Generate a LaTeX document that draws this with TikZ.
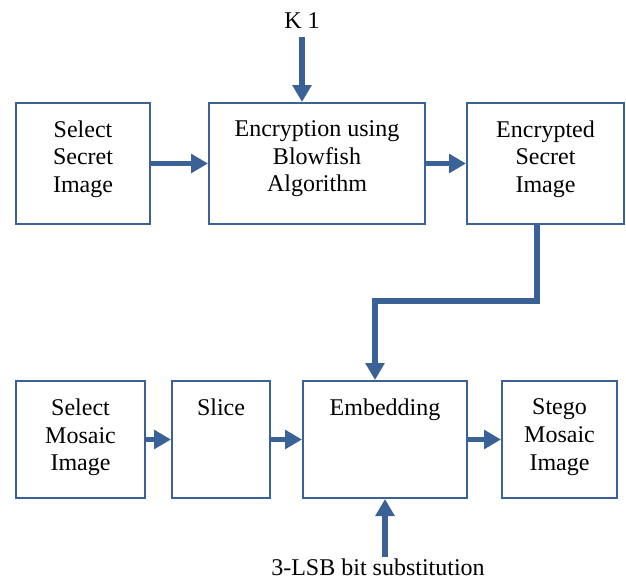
\documentclass[tikz,border=0pt]{standalone}
\usepackage{fontspec}
\setmainfont{Liberation Serif}
\usetikzlibrary{arrows.meta}
\definecolor{flowblue}{RGB}{59,98,150}
\begin{document}
\begin{tikzpicture}[x=1pt,y=-1pt,
  box/.style={draw=flowblue,line width=2pt,rectangle,inner sep=0pt,fill=white},
  lbl/.style={inner sep=0pt,align=center,anchor=north,font=\fontsize{24}{27.8}\selectfont},
  arr/.style={draw=flowblue,line width=5.5pt,line join=miter,-{Triangle[length=17pt,width=18.5pt]}}]
\useasboundingbox (0,0) rectangle (626,581);
% top row boxes
\node[box,minimum width=134,minimum height=121] (b1) at (83,163.5) {};
\node[box,minimum width=216,minimum height=121] (b2) at (317,163.5) {};
\node[box,minimum width=157,minimum height=121] (b3) at (545.5,163.5) {};
% bottom row boxes
\node[box,minimum width=129,minimum height=117] (b4) at (80.5,439.5) {};
\node[box,minimum width=98,minimum height=117] (b5) at (221,439.5) {};
\node[box,minimum width=164,minimum height=117] (b6) at (385,439.5) {};
\node[box,minimum width=115,minimum height=117] (b7) at (559.5,439.5) {};
% labels
\node[lbl] (t1) at (83,120.2) {Select\\Secret\\Image};
\node[lbl] (t2) at (317,120.2) {Encryption using\\Blowfish\\Algorithm};
\node[lbl] (t3) at (545.5,120.2) {Encrypted\\Secret\\Image};
\node[lbl] (t4) at (80.5,398.4) {Select\\Mosaic\\Image};
\node[lbl] (t5) at (221,398.4) {Slice};
\node[lbl] (t6) at (385,398.4) {Embedding};
\node[lbl] (t7) at (559.5,398.4) {Stego\\Mosaic\\Image};
\node[inner sep=0pt,anchor=base,font=\fontsize{24}{27.8}\selectfont] (k1) at (302,28) {K 1};
\node[inner sep=0pt,anchor=base,font=\fontsize{24}{27.8}\selectfont] (lsb) at (378,575) {3-LSB bit substitution};
% connectors
\coordinate (ks) at (302,37);
\coordinate (e1) at (537,301);
\coordinate (e2) at (375,301);
\coordinate (ls) at (385,557);
\draw[arr] (ks) -- (ks |- b2.north);
\draw[arr] (b1.east) -- (b2.west);
\draw[arr] (b2.east) -- (b3.west);
\draw[arr] (e1 |- b3.south) -- (e1) -- (e2) -- (e2 |- b6.north);
\draw[arr] (b4.east) -- (b5.west);
\draw[arr] (b5.east) -- (b6.west);
\draw[arr] (b6.east) -- (b7.west);
\draw[arr] (ls) -- (ls |- b6.south);
\end{tikzpicture}
\end{document}
